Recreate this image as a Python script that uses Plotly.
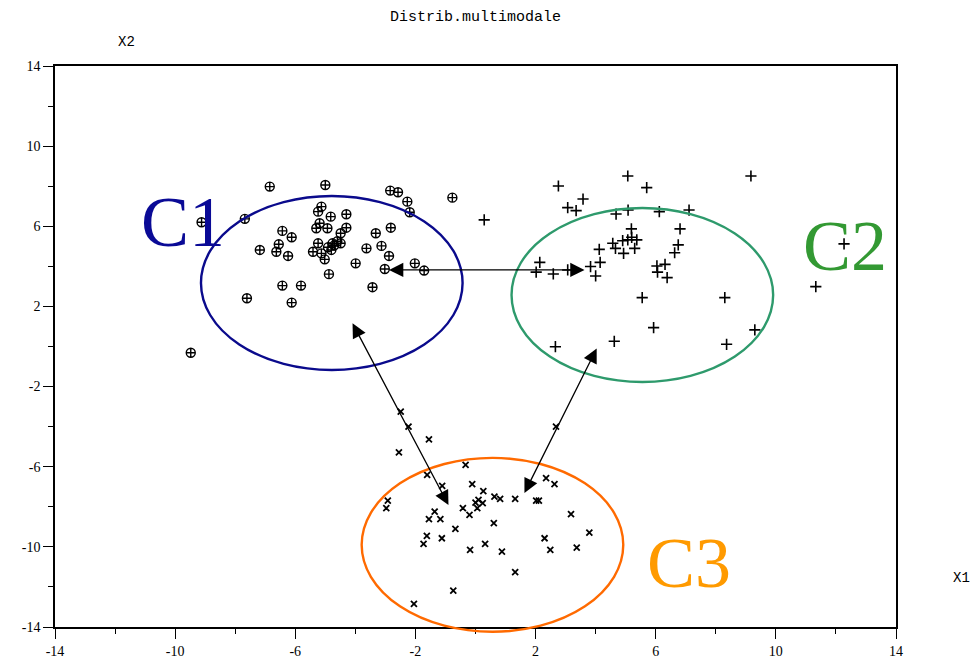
import plotly.graph_objects as go

# ---- data ----
c1_x = [-6.85, -5.00, -2.84, -2.58, -2.27, -0.77, -2.19, -7.68, -9.12, -5.13, -5.24, -4.82, -4.30,
        -5.19, -5.30, -4.93, -4.30, -4.49, -6.43, -6.12, -3.32, -2.82, -6.55, -5.24, -4.76, -4.49,
        -4.91, -7.18, -6.63, -6.24, -5.41, -5.13, -4.80, -5.02, -3.63, -3.13, -2.88, -3.99, -3.02,
        -2.02, -1.71, -4.88, -6.43, -5.81, -3.43, -7.61, -6.12, -9.48, -4.70, -4.60]
c1_y = [7.98, 8.06, 7.78, 7.70, 7.23, 7.43, 6.70, 6.37, 6.20, 6.98, 6.73, 6.48, 6.60,
        6.15, 5.90, 5.90, 5.93, 5.65, 5.77, 5.45, 5.65, 5.93, 5.10, 5.15, 5.15, 5.15,
        4.95, 4.82, 4.73, 4.52, 4.73, 4.65, 4.82, 4.35, 4.90, 5.02, 4.52, 4.15, 3.87,
        4.15, 3.79, 3.61, 3.04, 3.04, 2.96, 2.41, 2.19, -0.31, 5.05, 5.25]

c2_x = [2.76, 5.07, 5.70, 9.17, 3.58, 3.07, 3.35, 0.29, 4.68, 5.08, 6.12, 7.11, 5.19, 6.81,
        4.57, 4.90, 5.07, 5.37, 4.66, 4.93, 5.30, 6.75, 6.63, 4.12, 2.14, 2.02, 2.59, 3.07,
        3.83, 4.15, 4.00, 6.04, 6.31, 6.06, 6.38, 5.55, 8.30, 5.93, 4.62, 2.66, 8.36, 9.30,
        12.27, 11.33, 5.20]
c2_y = [8.01, 8.51, 7.93, 8.51, 7.36, 6.93, 6.78, 6.32, 6.61, 6.81, 6.73, 6.81, 5.87, 5.87,
        5.15, 5.28, 5.32, 5.32, 4.90, 4.65, 4.90, 5.07, 4.68, 4.85, 4.20, 3.71, 3.62, 3.82,
        3.99, 4.20, 3.52, 4.02, 4.10, 3.71, 3.44, 2.44, 2.44, 0.94, 0.26, -0.01, 0.11, 0.83,
        5.12, 2.99, 5.45]

c3_x = [-2.49, -2.23, -1.55, -2.55, 2.68, -0.33, -1.61, -1.11, -0.11, 0.26, 2.35, 2.63, -2.92,
        -2.97, 0.63, 0.82, 1.32, 2.02, 2.11, 0.00, 0.24, 0.06, -0.42, -0.20, -1.36, -1.55, -1.17,
        -0.67, 0.61, 3.18, 3.79, -1.62, -1.73, -1.12, 0.32, -0.18, 0.88, 2.30, 2.49, 3.37, 1.32,
        -0.74, -2.05, 0.10]
c3_y = [-3.25, -4.00, -4.63, -5.28, -4.00, -5.91, -6.41, -6.96, -6.87, -7.22, -6.57, -6.87, -7.69,
        -8.07, -7.49, -7.61, -7.61, -7.69, -7.69, -7.79, -7.82, -8.07, -8.07, -8.40, -8.24, -8.62, -8.62,
        -9.10, -8.82, -8.37, -9.29, -9.45, -9.85, -9.57, -9.85, -10.15, -10.24, -9.57, -10.15, -10.04, -11.26,
        -12.18, -12.85, -7.65]

tick_vals = [-14, -10, -6, -2, 2, 6, 10, 14]
tick_text = ["-14", "-10", "-6", "-2", "2", "6", "10", "14"]
minor_vals = [-12, -8, -4, 0, 4, 8, 12]

# cluster ellipses (data coordinates: x0, x1, y0, y1) and label positions
ellipses = [
    dict(name="C1", x0=-9.14, x1=-0.43, y0=-1.17, y1=7.51, line="#0a0a8c", text="#0a0a96",
         tx=-9.75, ty=6.2),
    dict(name="C2", x0=1.20, x1=9.91, y0=-1.77, y1=6.91, line="#2e9a6c", text="#339933",
         tx=12.3, ty=5.0),
    dict(name="C3", x0=-3.79, x1=4.92, y0=-14.24, y1=-5.56, line="#ff6a00", text="#ff9a00",
         tx=7.1, ty=-10.8),
]

# double-headed arrows (data coords)
arrows = [(-2.93, 3.82, 3.63, 3.82), (-4.12, 1.23, -0.90, -7.91), (4.06, -0.02, 1.63, -7.31)]

XR = [-14, 14]
YR = [-14, 14]

fig = go.Figure()
fig.add_trace(go.Scatter(x=c1_x, y=c1_y, mode="markers",
                         marker=dict(symbol="circle-cross-open", size=9, color="black",
                                     line=dict(width=1.4, color="black"))))
fig.add_trace(go.Scatter(x=c2_x, y=c2_y, mode="markers",
                         marker=dict(symbol="cross-thin-open", size=8, color="black",
                                     line=dict(width=1.6, color="black"))))
fig.add_trace(go.Scatter(x=c3_x, y=c3_y, mode="markers",
                         marker=dict(symbol="x-thin-open", size=6, color="black",
                                     line=dict(width=1.8, color="black"))))

def fx(v):
    return (v - XR[0]) / (XR[1] - XR[0])

def fy(v):
    return (v - YR[0]) / (YR[1] - YR[0])

shapes = []
annotations = []
for e in ellipses:
    shapes.append(dict(type="circle", xref="x domain", yref="y domain",
                       x0=fx(e["x0"]), x1=fx(e["x1"]), y0=fy(e["y0"]), y1=fy(e["y1"]),
                       line=dict(color=e["line"], width=2.4)))
    annotations.append(dict(x=e["tx"], y=e["ty"], xref="x", yref="y", text=e["name"],
                            showarrow=False,
                            font=dict(family="Liberation Serif", size=72, color=e["text"])))

for (x0, y0, x1, y1) in arrows:
    annotations.append(dict(x=x1, y=y1, ax=x0, ay=y0, xref="x", yref="y", axref="x", ayref="y",
                            text="", showarrow=True, arrowhead=2, startarrowhead=2,
                            arrowside="end+start", arrowsize=2.2, startarrowsize=2.2,
                            arrowwidth=1.3, arrowcolor="black"))

lab_font = dict(family="Liberation Mono", size=14, color="black")
annotations.append(dict(x=0.5, y=1.0, xref="paper", yref="paper", yshift=49, yanchor="middle",
                        text="Distrib.multimodale", showarrow=False,
                        font=dict(family="Liberation Mono", size=15, color="black")))
annotations.append(dict(x=0.072, y=1.0, xref="paper", yref="paper", yshift=24, yanchor="middle",
                        text="X2", showarrow=False, font=lab_font))
annotations.append(dict(x=1.0, y=0.087, xref="paper", yref="paper", xshift=76, yanchor="middle",
                        text="X1", showarrow=False, font=lab_font))

axis_common = dict(range=XR, tickmode="array", tickvals=tick_vals, ticktext=tick_text,
                   automargin=False,
                   showgrid=False, zeroline=False, showline=True, linecolor="black", linewidth=1.5,
                   mirror=True, ticks="outside", ticklen=10, tickwidth=1.3, tickcolor="black",
                   tickfont=dict(family="Liberation Serif", size=14, color="black"),
                   minor=dict(ticks="outside", ticklen=5, tickwidth=1.3, tickcolor="black",
                              tickmode="array", tickvals=minor_vals))

# the page body has a default 8px margin, so the figure is sized/offset to compensate
fig.update_layout(
    template="none",
    width=970, height=654,
    margin=dict(l=47, r=82, t=58, b=35),
    paper_bgcolor="white", plot_bgcolor="white",
    showlegend=False,
    xaxis=dict(axis_common),
    yaxis=dict(axis_common, range=YR),
    shapes=shapes,
    annotations=annotations,
)

fig.write_html("out.html")
